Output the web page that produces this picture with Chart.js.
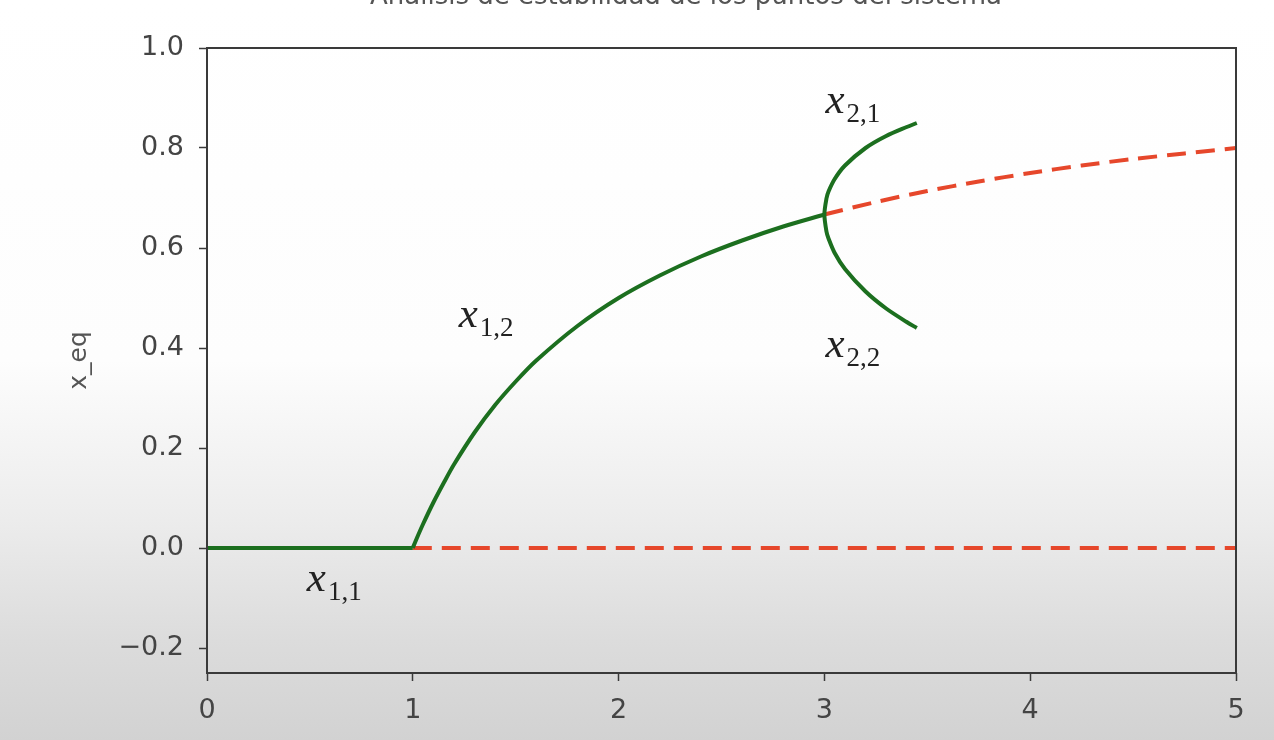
<!DOCTYPE html>
<html>
<head>
<meta charset="utf-8">
<script src="https://cdn.jsdelivr.net/npm/chart.js@4.4.1/dist/chart.umd.min.js"></script>
<style>
  html, body { margin: 0; padding: 0; }
  body {
    width: 1274px; height: 740px; overflow: hidden;
    background: linear-gradient(to bottom, #ffffff 0px, #fdfdfd 360px, #ececec 520px, #dcdcdc 640px, #d2d2d2 740px);
  }
  #wrap { position: absolute; left: 0; top: 0; width: 1274px; height: 740px; }
</style>
</head>
<body>
<div id="wrap"><canvas id="c" width="1274" height="740"></canvas></div>
<script>
// ---- data ----
const chartTitle = 'Análisis de estabilidad de los puntos del sistema';
const yAxisTitle = 'x_eq';
const xTicks = [0, 1, 2, 3, 4, 5];
const yTicks = [-0.2, 0.0, 0.2, 0.4, 0.6, 0.8, 1.0];

// stable trivial equilibrium x_{1,1}
const stableZeroR = [0, 1];
const stableZeroX = [0, 0];
// unstable trivial equilibrium
const unstableZeroR = [1, 5];
const unstableZeroX = [0, 0];
// stable non-trivial equilibrium x_{1,2}
const stableBranchR = [1.0, 1.02, 1.05, 1.1, 1.15, 1.2, 1.3, 1.4, 1.5, 1.6, 1.8, 2.0, 2.2, 2.4, 2.6, 2.8, 3.0];
const stableBranchX = [0.0, 0.020, 0.048, 0.091, 0.130, 0.167, 0.231, 0.286, 0.333, 0.375, 0.444, 0.500, 0.545, 0.583, 0.615, 0.643, 0.667];
// unstable non-trivial equilibrium
const unstableBranchR = [3.0, 3.25, 3.5, 3.75, 4.0, 4.25, 4.5, 4.75, 5.0];
const unstableBranchX = [0.667, 0.692, 0.714, 0.733, 0.750, 0.765, 0.778, 0.789, 0.800];
// period-2 orbit x_{2,1} (upper) and x_{2,2} (lower)
const period2R = [3.449, 3.4, 3.3, 3.2, 3.1, 3.05, 3.02, 3.01, 3.0, 3.01, 3.02, 3.05, 3.1, 3.2, 3.3, 3.4, 3.449];
const period2X = [0.850, 0.842, 0.824, 0.800, 0.765, 0.738, 0.713, 0.699, 0.667, 0.633, 0.619, 0.590, 0.558, 0.513, 0.479, 0.452, 0.440];

// annotation labels
const annotBase = ['x', 'x', 'x', 'x'];
const annotSub = ['1,1', '1,2', '2,1', '2,2'];
const annotR = [0.485, 1.223, 3.005, 3.005];
const annotX = [-0.086, 0.442, 0.870, 0.382];

const GREEN = '#1c6f1f';
const RED = '#e6472b';

const zip = (a, b) => a.map((v, i) => ({ x: v, y: b[i] }));

const frameAndText = {
  id: 'frameAndText',
  afterDatasetsDraw(chart) {
    const { ctx, scales } = chart;
    ctx.save();
    ctx.fillStyle = '#222';
    ctx.textBaseline = 'alphabetic';
    ctx.textAlign = 'left';
    for (let i = 0; i < annotBase.length; i++) {
      const px = scales.x.getPixelForValue(annotR[i]);
      const py = scales.y.getPixelForValue(annotX[i]);
      ctx.font = 'italic 43px "Liberation Serif", "DejaVu Serif", serif';
      ctx.fillText(annotBase[i], px, py);
      const w = ctx.measureText(annotBase[i]).width;
      ctx.font = '27px "Liberation Serif", "DejaVu Serif", serif';
      ctx.fillText(annotSub[i], px + w + 2, py + 9);
    }
    ctx.restore();
  },
  afterDraw(chart) {
    const { ctx, chartArea: ca } = chart;
    ctx.save();
    ctx.strokeStyle = '#3a3a3a';
    ctx.lineWidth = 2;
    ctx.strokeRect(ca.left, ca.top, ca.right - ca.left, ca.bottom - ca.top);
    // title (cut off at the top of the picture)
    ctx.fillStyle = '#555';
    ctx.font = '26px "DejaVu Sans", sans-serif';
    ctx.textAlign = 'center';
    ctx.textBaseline = 'alphabetic';
    ctx.fillText(chartTitle, 686, 4);
    ctx.restore();
  }
};

const tickFont = { family: '"DejaVu Sans", sans-serif', size: 27 };

new Chart(document.getElementById('c'), {
  type: 'scatter',
  data: {
    datasets: [
      { data: zip(stableZeroR, stableZeroX), borderColor: GREEN, borderWidth: 4, showLine: true, pointRadius: 0, tension: 0 },
      { data: zip(stableBranchR, stableBranchX), borderColor: GREEN, borderWidth: 4, showLine: true, pointRadius: 0, tension: 0.3 },
      { data: zip(period2R, period2X), borderColor: GREEN, borderWidth: 4, showLine: true, pointRadius: 0, tension: 0.3 },
      { data: zip(unstableZeroR, unstableZeroX), borderColor: RED, borderWidth: 4, borderDash: [19, 10], showLine: true, pointRadius: 0, tension: 0 },
      { data: zip(unstableBranchR, unstableBranchX), borderColor: RED, borderWidth: 4, borderDash: [19, 10], showLine: true, pointRadius: 0, tension: 0.3 }
    ]
  },
  options: {
    responsive: false,
    animation: false,
    devicePixelRatio: 1,
    layout: { padding: { top: 48, right: 38, bottom: 0, left: 0 } },
    plugins: { legend: { display: false }, tooltip: { enabled: false }, title: { display: false } },
    scales: {
      x: {
        type: 'linear', min: 0, max: 5,
        afterBuildTicks: s => { s.ticks = xTicks.map(v => ({ value: v })); },
        afterFit: s => { s.height = 67; },
        ticks: { font: tickFont, color: '#444', padding: 14, maxRotation: 0, callback: v => String(v) },
        grid: { display: true, drawOnChartArea: false, drawTicks: true, tickLength: 8, tickColor: '#3a3a3a', tickWidth: 1.5 },
        border: { display: false }
      },
      y: {
        type: 'linear', min: -0.25, max: 1.0,
        afterBuildTicks: s => { s.ticks = yTicks.map(v => ({ value: v })); },
        afterFit: s => { s.width = 207; },
        ticks: { font: tickFont, color: '#444', padding: 15, callback: v => (v < 0 ? '\u2212' : '') + Math.abs(v).toFixed(1) },
        grid: { display: true, drawOnChartArea: false, drawTicks: true, tickLength: 8, tickColor: '#3a3a3a', tickWidth: 1.5 },
        border: { display: false },
        title: { display: true, text: yAxisTitle, color: '#555', font: { family: '"DejaVu Sans", sans-serif', size: 25 }, padding: { top: 64, bottom: 0 } }
      }
    }
  },
  plugins: [frameAndText]
});
</script>
</body>
</html>
